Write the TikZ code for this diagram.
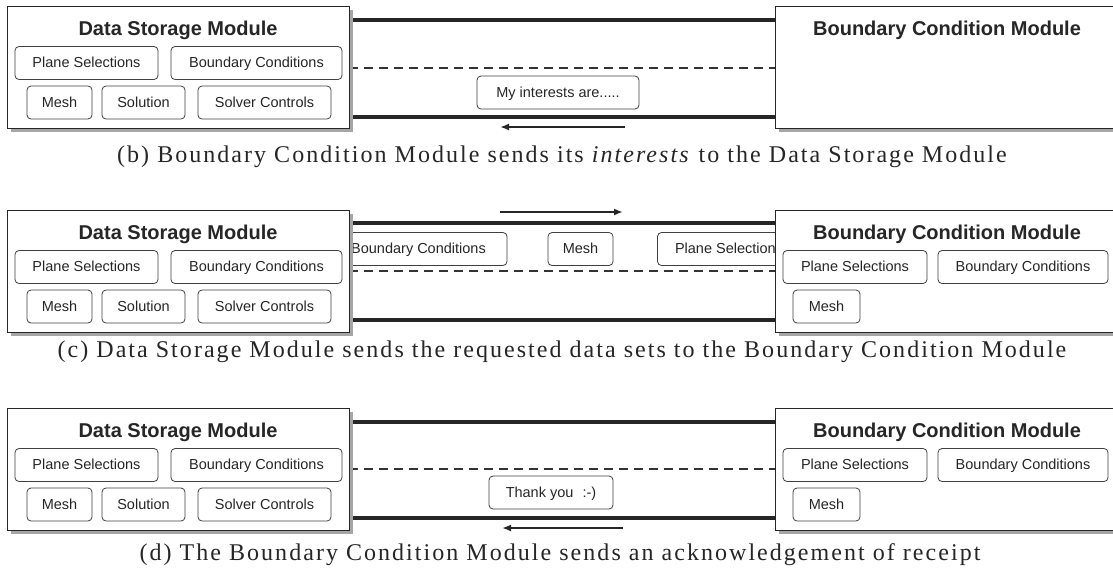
\documentclass[tikz,border=0pt]{standalone}
\usepackage{fontspec}
\setmainfont{Liberation Serif}
\setsansfont{Liberation Sans}
\usetikzlibrary{arrows.meta,shadows}
\pgfdeclarelayer{background}
\pgfsetlayers{background,main}
\tikzset{
  modbox/.style={draw=black!85, line width=0.9pt, fill=white, inner sep=0pt,
    drop shadow={shadow xshift=4pt, shadow yshift=-4pt, fill=black!35, opacity=1}},
  modtitle/.style={font=\sffamily\bfseries\fontsize{20}{22}\selectfont, text=black!85, inner sep=0pt,
    text height=14.3pt, text depth=0pt},
  item/.style={draw=black!75, line width=0.8pt, rounded corners=4pt, fill=white, inner sep=0pt,
    minimum height=33pt, font=\sffamily\fontsize{14.5}{17}\selectfont, text=black!85,
    text height=10.5pt, text depth=1pt},
  chan/.style={line width=4pt, draw=black!85},
  chandash/.style={line width=1.8pt, draw=black!80, dash pattern=on 9pt off 6pt},
  sendarrow/.style={line width=1.8pt, draw=black!85, -{Latex[length=9pt,width=7pt]}},
  capt/.style={font=\fontsize{24}{28}\selectfont\addfontfeatures{LetterSpace=8.5}, anchor=base, inner sep=0pt, text=black!85},
}
\newcommand\DSMod[1]{%
  \node[modbox, minimum width=342pt, minimum height=122pt] (#1) at (178,67) {};
  \node[modtitle] (#1t) at (178,28) {Data Storage Module};
  \node[item, minimum width=143pt] (#1ps) at (86.5,63) {Plane Selections};
  \node[item, minimum width=171pt] (#1bc) at (256.5,63) {Boundary Conditions};
  \node[item, minimum width=65pt] (#1me) at (59.5,102.5) {Mesh};
  \node[item, minimum width=83pt] (#1so) at (143.5,102.5) {Solution};
  \node[item, minimum width=133pt] (#1sc) at (264.5,102.5) {Solver Controls};
}
\newcommand\BCMod[1]{%
  \node[modbox, minimum width=355pt, minimum height=122pt] (#1) at (952.5,67) {};
  \node[modtitle] (#1t) at (947,28) {Boundary Condition Module};
}
\newcommand\BCItems[1]{%
  \node[item, minimum width=144pt] (#1ps) at (855,63) {Plane Selections};
  \node[item, minimum width=170pt] (#1bc) at (1023,63) {Boundary Conditions};
  \node[item, minimum width=67pt] (#1me) at (826.5,102.5) {Mesh};
}
\newcommand\Channel[4]{% prefix, top y, dash y, bottom y
  \begin{pgfonlayer}{background}
    \draw[chan] (#1dsm.east |- 0,#2) -- (#1bcm.west |- 0,#2);
    \draw[chandash] (#1dsm.east |- 0,#3) -- (#1bcm.west |- 0,#3);
    \draw[chan] (#1dsm.east |- 0,#4) -- (#1bcm.west |- 0,#4);
  \end{pgfonlayer}
}
\begin{document}
\begin{tikzpicture}[x=1pt,y=-1pt]
\path[use as bounding box] (0,0) rectangle (1113,571);
\clip (0,0) rectangle (1113,571);
\begin{pgfonlayer}{background}
  \fill[white] (0,0) rectangle (1113,571);
\end{pgfonlayer}

% ---------- panel (b) ----------
\begin{scope}
  \node[item, minimum width=162pt] (bmsg) at (558,92.5) {My interests are.....};
  \DSMod{bdsm}
  \BCMod{bbcm}
  \Channel{b}{20}{68}{117}
  \coordinate (bas) at (625,127);
  \coordinate (bae) at (500,127);
  \draw[sendarrow] (bas) -- (bae);
\end{scope}
\node[capt] (capb) at (562,162) {(b) Boundary Condition Module sends its \textit{interests} to the Data Storage Module};

% ---------- panel (c) ----------
\begin{scope}[shift={(0,204)}]
  \node[item, minimum width=177pt] (cmbc) at (418.5,45) {Boundary Conditions};
  \node[item, minimum width=65pt] (cmme) at (580.5,45) {Mesh};
  \node[item, minimum width=143pt] (cmps) at (729,45) {Plane Selections};
  \DSMod{cdsm}
  \BCMod{cbcm}
  \BCItems{cbcm}
  \Channel{c}{19}{67}{116}
  \coordinate (cas) at (500,8);
  \coordinate (cae) at (623,8);
  \draw[sendarrow] (cas) -- (cae);
\end{scope}
\node[capt] (capc) at (562,357) {(c) Data Storage Module sends the requested data sets to the Boundary Condition Module};

% ---------- panel (d) ----------
\begin{scope}[shift={(0,402)}]
  \node[item, minimum width=124pt] (dmsg) at (551,90.5) {Thank you\hspace{0.35em} :-)};
  \DSMod{ddsm}
  \BCMod{dbcm}
  \BCItems{dbcm}
  \Channel{d}{20}{67}{116}
  \coordinate (das) at (623,126);
  \coordinate (dae) at (502,126);
  \draw[sendarrow] (das) -- (dae);
\end{scope}
\node[capt] (capd) at (560,560) {(d) The Boundary Condition Module sends an acknowledgement of receipt};
\end{tikzpicture}
\end{document}
